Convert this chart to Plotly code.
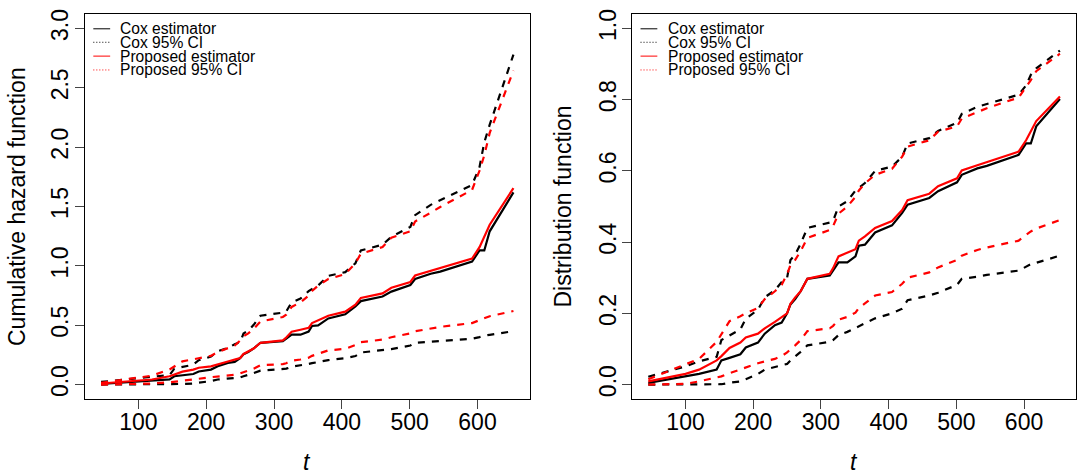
import plotly.graph_objects as go

# event times (shared grid)
t = [45, 100, 120, 146, 153, 165, 181, 189, 207, 217, 232, 242, 250, 255, 262, 270, 280,
     313, 318, 326, 339, 351, 356, 365, 380, 405, 420, 428, 460, 473, 501, 508, 531, 545,
     592, 603, 610, 618, 653]

# Left panel: cumulative hazard
cox_H = [0.005, 0.023, 0.030, 0.043, 0.070, 0.078, 0.089, 0.110, 0.126, 0.154, 0.183, 0.191,
         0.223, 0.255, 0.274, 0.304, 0.352, 0.365, 0.386, 0.420, 0.420, 0.446, 0.494, 0.499,
         0.557, 0.592, 0.658, 0.703, 0.742, 0.783, 0.839, 0.889, 0.934, 0.952, 1.036, 1.130,
         1.130, 1.291, 1.619]
cox_H_up = [0.022, 0.052, 0.067, 0.081, 0.134, 0.149, 0.168, 0.205, 0.236, 0.281, 0.308, 0.340,
            0.357, 0.431, 0.454, 0.503, 0.580, 0.606, 0.616, 0.693, 0.724, 0.787, 0.805, 0.835,
            0.916, 0.947, 1.022, 1.130, 1.178, 1.245, 1.328, 1.427, 1.514, 1.551, 1.682, 1.833,
            2.040, 2.189, 2.780]
cox_H_lo = [0.0, 0.0, 0.0, 0.0, 0.001, 0.005, 0.009, 0.015, 0.030, 0.043, 0.051, 0.057, 0.060,
            0.070, 0.081, 0.097, 0.117, 0.128, 0.134, 0.150, 0.160, 0.174, 0.180, 0.189, 0.206,
            0.223, 0.240, 0.270, 0.288, 0.299, 0.329, 0.352, 0.361, 0.368, 0.386, 0.400, 0.412,
            0.419, 0.450]
prop_H = [0.009, 0.030, 0.043, 0.070, 0.083, 0.109, 0.126, 0.142, 0.154, 0.172, 0.194, 0.210,
          0.223, 0.258, 0.281, 0.304, 0.352, 0.372, 0.396, 0.446, 0.462, 0.478, 0.518, 0.539,
          0.580, 0.614, 0.673, 0.730, 0.768, 0.816, 0.864, 0.919, 0.957, 0.981, 1.061, 1.158,
          1.245, 1.347, 1.655]
prop_H_up = [0.015, 0.058, 0.075, 0.128, 0.151, 0.196, 0.213, 0.223, 0.242, 0.274, 0.304, 0.329,
             0.371, 0.408, 0.431, 0.470, 0.531, 0.569, 0.589, 0.654, 0.693, 0.749, 0.788, 0.834,
             0.889, 0.931, 1.022, 1.103, 1.158, 1.238, 1.291, 1.374, 1.448, 1.496, 1.640, 1.802,
             1.931, 2.120, 2.645]
prop_H_lo = [0.0, 0.002, 0.009, 0.019, 0.023, 0.033, 0.044, 0.049, 0.062, 0.067, 0.075, 0.083,
             0.094, 0.105, 0.117, 0.134, 0.163, 0.172, 0.180, 0.201, 0.211, 0.226, 0.242, 0.259,
             0.288, 0.301, 0.333, 0.357, 0.379, 0.399, 0.431, 0.449, 0.475, 0.486, 0.518, 0.545,
             0.562, 0.576, 0.620]

# Right panel: distribution function
cox_F = [0.005, 0.023, 0.030, 0.042, 0.068, 0.075, 0.085, 0.104, 0.118, 0.143, 0.167, 0.174,
         0.200, 0.225, 0.240, 0.262, 0.297, 0.306, 0.320, 0.343, 0.343, 0.360, 0.390, 0.393,
         0.427, 0.447, 0.482, 0.505, 0.524, 0.543, 0.568, 0.589, 0.607, 0.614, 0.645, 0.677,
         0.677, 0.725, 0.802]
cox_F_up = [0.022, 0.051, 0.065, 0.078, 0.125, 0.138, 0.155, 0.185, 0.210, 0.245, 0.265, 0.288,
            0.300, 0.350, 0.365, 0.395, 0.440, 0.455, 0.460, 0.500, 0.515, 0.545, 0.553, 0.566,
            0.600, 0.612, 0.640, 0.677, 0.692, 0.712, 0.735, 0.760, 0.780, 0.788, 0.814, 0.840,
            0.870, 0.888, 0.938]
cox_F_lo = [0.0, 0.0, 0.0, 0.0, 0.001, 0.005, 0.009, 0.015, 0.030, 0.042, 0.050, 0.055, 0.058,
            0.068, 0.078, 0.092, 0.110, 0.120, 0.125, 0.139, 0.148, 0.160, 0.165, 0.172, 0.186,
            0.200, 0.213, 0.237, 0.250, 0.258, 0.280, 0.297, 0.303, 0.308, 0.320, 0.330, 0.338,
            0.342, 0.362]
prop_F = [0.009, 0.030, 0.042, 0.068, 0.080, 0.103, 0.118, 0.132, 0.143, 0.158, 0.176, 0.189,
          0.200, 0.227, 0.245, 0.262, 0.297, 0.311, 0.327, 0.360, 0.370, 0.380, 0.404, 0.416,
          0.440, 0.459, 0.490, 0.518, 0.536, 0.557, 0.579, 0.601, 0.616, 0.625, 0.654, 0.686,
          0.712, 0.740, 0.809]
prop_F_up = [0.015, 0.056, 0.072, 0.120, 0.140, 0.178, 0.192, 0.200, 0.215, 0.240, 0.262, 0.280,
             0.310, 0.335, 0.350, 0.375, 0.412, 0.434, 0.445, 0.480, 0.500, 0.527, 0.545, 0.565,
             0.589, 0.606, 0.640, 0.668, 0.686, 0.710, 0.725, 0.747, 0.765, 0.776, 0.806, 0.835,
             0.855, 0.880, 0.929]
prop_F_lo = [0.0, 0.002, 0.009, 0.019, 0.023, 0.032, 0.043, 0.048, 0.060, 0.065, 0.072, 0.080,
             0.090, 0.100, 0.110, 0.125, 0.150, 0.158, 0.165, 0.182, 0.190, 0.202, 0.215, 0.228,
             0.250, 0.260, 0.283, 0.300, 0.315, 0.329, 0.350, 0.362, 0.378, 0.385, 0.404, 0.420,
             0.430, 0.438, 0.462]

x_ticks = [100, 200, 300, 400, 500, 600]
yL_ticks = [0.0, 0.5, 1.0, 1.5, 2.0, 2.5, 3.0]
yR_ticks = [0.0, 0.2, 0.4, 0.6, 0.8, 1.0]
legend_labels = ["Cox estimator", "Cox 95% CI", "Proposed estimator", "Proposed 95% CI"]
legend_colors = ["black", "black", "#FF0000", "#FF0000"]
legend_dash = ["solid", "1px,2px", "solid", "1px,2px"]

FONT = "Liberation Sans, Arial, Helvetica, sans-serif"
FS = 23
RED = "#FF0000"

fig = go.Figure()

def add_panel(xa, ya, est_c, up_c, lo_c, est_p, up_p, lo_p):
    dash = "7px,7px"
    for y, c, d in [(up_c, "black", dash), (lo_c, "black", dash), (est_c, "black", "solid"),
                    (up_p, RED, dash), (lo_p, RED, dash), (est_p, RED, "solid")]:
        fig.add_trace(go.Scatter(x=t, y=y, mode="lines", xaxis=xa, yaxis=ya, showlegend=False,
                                 line=dict(color=c, width=2.2, dash=d), hoverinfo="skip"))

add_panel("x", "y", cox_H, cox_H_up, cox_H_lo, prop_H, prop_H_up, prop_H_lo)
add_panel("x2", "y2", cox_F, cox_F_up, cox_F_lo, prop_F, prop_F_up, prop_F_lo)

axis_common = dict(showline=True, linecolor="black", linewidth=1, mirror=True,
                   ticks="outside", ticklen=9, tickwidth=1, tickcolor="#444444",
                   showgrid=False, zeroline=False,
                   tickfont=dict(family=FONT, size=FS, color="black"))

dom_yl = [0.1603, 0.9804]
fig.update_layout(
    width=1077, height=474,
    margin=dict(l=0, r=0, t=0, b=0),
    paper_bgcolor="white", plot_bgcolor="white",
    xaxis=dict(domain=[0.0785, 0.4921], range=[20.6, 677.4], tickvals=x_ticks,
               anchor="y", ticklabelstandoff=-6, **axis_common),
    yaxis=dict(domain=dom_yl, range=[-0.12, 3.12], tickvals=yL_ticks, tickformat=".1f",
               tickangle=-90, anchor="x", ticklabelstandoff=-3, **axis_common),
    xaxis2=dict(domain=[0.5866, 0.9995], range=[20.6, 677.4], tickvals=x_ticks,
                anchor="y2", ticklabelstandoff=-6, **axis_common),
    yaxis2=dict(domain=dom_yl, range=[-0.04, 1.04], tickvals=yR_ticks, tickformat=".1f",
                tickangle=-90, anchor="x2", ticklabelstandoff=-3, **axis_common),
    showlegend=False,
)

annotations = []
shapes = []
# axis titles
for xc in [307 / 1077, 854 / 1077]:
    annotations.append(dict(text="<i>t</i>", x=xc, y=(474 - 461.5) / 474, xref="paper",
                            yref="paper", showarrow=False, xanchor="center", yanchor="middle",
                            font=dict(family=FONT, size=FS, color="black")))
for xc, title_y in [(16.5 / 1077, "Cumulative hazard function"),
                    (563 / 1077, "Distribution function")]:
    annotations.append(dict(text=title_y, x=xc, y=(0.1603 + 0.9804) / 2, xref="paper",
                            yref="paper", showarrow=False, xanchor="center", yanchor="middle",
                            textangle=-90, font=dict(family=FONT, size=FS, color="black")))

# legends (drawn manually, R style without box)
rows = [0.962, 0.927, 0.891, 0.855]
for xa, ya in [("x", "y"), ("x2", "y2")]:
    for lab, col, d, yy in zip(legend_labels, legend_colors, legend_dash, rows):
        shapes.append(dict(type="line", xref=f"{xa} domain", yref=f"{ya} domain",
                           x0=0.0197, x1=0.0575, y0=yy, y1=yy,
                           line=dict(color=col, width=1, dash=d)))
        annotations.append(dict(text=lab, xref=f"{xa} domain", yref=f"{ya} domain",
                                x=0.0760, y=yy, xanchor="left", yanchor="middle",
                                showarrow=False,
                                font=dict(family=FONT, size=15.6, color="black")))

fig.update_layout(annotations=annotations, shapes=shapes)
fig.write_html("out.html", config={"displayModeBar": False},
               post_script="document.body.style.margin='0px';")
